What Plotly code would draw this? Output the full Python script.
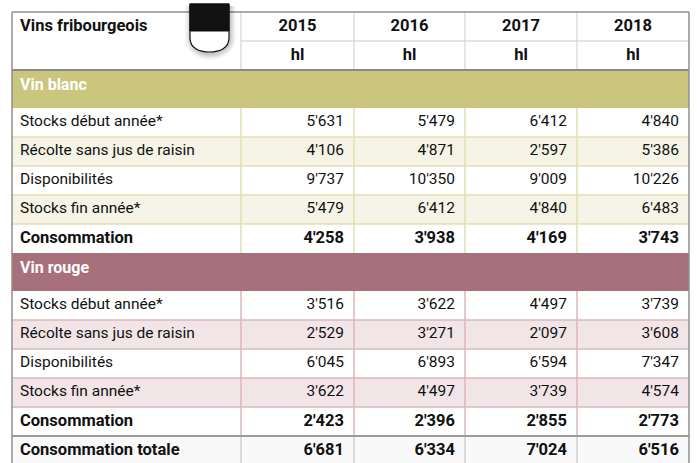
import plotly.graph_objects as go

# ---------------- data ----------------
title = "Vins fribourgeois"
years = ["2015", "2016", "2017", "2018"]
units = ["hl", "hl", "hl", "hl"]
row_labels = ["Stocks début année*", "Récolte sans jus de raisin", "Disponibilités",
              "Stocks fin année*", "Consommation"]

blanc_stocks_debut = [5631, 5479, 6412, 4840]
blanc_recolte = [4106, 4871, 2597, 5386]
blanc_dispo = [9737, 10350, 9009, 10226]
blanc_stocks_fin = [5479, 6412, 4840, 6483]
blanc_conso = [4258, 3938, 4169, 3743]

rouge_stocks_debut = [3516, 3622, 4497, 3739]
rouge_recolte = [2529, 3271, 2097, 3608]
rouge_dispo = [6045, 6893, 6594, 7347]
rouge_stocks_fin = [3622, 4497, 3739, 4574]
rouge_conso = [2423, 2396, 2855, 2773]

total_label = "Consommation totale"
conso_totale = [6681, 6334, 7024, 6516]

# ---------------- style / geometry ----------------
W, H = 697, 463
col_edges = [12, 241, 354, 465, 577, 689]
TOP = 12
HDR_ROW = 29
BAND_H = 38
ROW_H = 29
FONT = "Roboto"
FS = 15.5
FS_B = 16.5
TXT = "#111111"

sections = [
    dict(name="Vin blanc", rows=[blanc_stocks_debut, blanc_recolte, blanc_dispo,
                                 blanc_stocks_fin, blanc_conso],
         band="#cac67e", alt="#f5f4e6", grid="#e3dfb3"),
    dict(name="Vin rouge", rows=[rouge_stocks_debut, rouge_recolte, rouge_dispo,
                                 rouge_stocks_fin, rouge_conso],
         band="#a8707a", alt="#f1e5e7", grid="#dbb7bc"),
]


def fmt(v):
    return f"{v:,}".replace(",", "'")


shapes = []
texts = {"reg": [[], [], [], []], "bold": [[], [], [], []], "white": [[], [], [], []]}


def add_text(kind, x, y, t, pos):
    texts[kind][0].append(x)
    texts[kind][1].append(y)
    texts[kind][2].append(t)
    texts[kind][3].append(pos)


def rect(x0, y0, x1, y1, fill):
    shapes.append(dict(type="rect", xref="x", yref="y", x0=x0, x1=x1, y0=y0, y1=y1,
                       fillcolor=fill, line=dict(width=0), layer="below"))


def hline(x0, x1, y, color, w=1):
    shapes.append(dict(type="line", xref="x", yref="y", x0=x0, x1=x1, y0=y, y1=y,
                       line=dict(color=color, width=w), layer="below"))


def vline(x, y0, y1, color, w=1):
    shapes.append(dict(type="line", xref="x", yref="y", x0=x, x1=x, y0=y0, y1=y1,
                       line=dict(color=color, width=w), layer="below"))


L, R = col_edges[0], col_edges[-1]
pad_l, pad_r = 8, 10

# header
hdr_bot = TOP + 2 * HDR_ROW
rect(L, TOP, R, hdr_bot, "white")
add_text("bold", L + pad_l, TOP + HDR_ROW / 2, title, "middle right")
for i, (yr, u) in enumerate(zip(years, units)):
    cx = (col_edges[i + 1] + col_edges[i + 2]) / 2
    add_text("bold", cx, TOP + HDR_ROW / 2, yr, "middle center")
    add_text("bold", cx, TOP + HDR_ROW * 1.5, u, "middle center")
hline(col_edges[1], R, TOP + HDR_ROW, "#cccccc", 1)
for xe in col_edges[1:-1]:
    vline(xe, TOP, hdr_bot, "#cccccc", 1)

y = hdr_bot
for sec in sections:
    # band
    rect(L, y, R, y + BAND_H, sec["band"])
    add_text("white", L + pad_l, y + BAND_H / 2 - 3, sec["name"], "middle right")
    y += BAND_H
    y_start = y
    section_lines = []
    for r, (lab, vals) in enumerate(zip(row_labels, sec["rows"])):
        fill = sec["alt"] if r % 2 == 1 else "white"
        rect(L, y, R, y + ROW_H, fill)
        kind = "bold" if r == len(row_labels) - 1 else "reg"
        add_text(kind, L + pad_l, y + ROW_H / 2, lab, "middle right")
        for i, v in enumerate(vals):
            add_text(kind, col_edges[i + 2] - pad_r, y + ROW_H / 2, fmt(v), "middle left")
        if r > 0:
            section_lines.append(y)
        y += ROW_H
    for xe in col_edges[1:-1]:
        vline(xe, y_start, y, sec["grid"], 1.5)
    for yy in section_lines:
        hline(L, R, yy, sec["grid"], 1.5)

# total row
rect(L, y, R, y + ROW_H, "#f9f9f9")
add_text("bold", L + pad_l, y + ROW_H / 2, total_label, "middle right")
for i, v in enumerate(conso_totale):
    add_text("bold", col_edges[i + 2] - pad_r, y + ROW_H / 2, fmt(v), "middle left")
for xe in col_edges[1:-1]:
    vline(xe, y, y + ROW_H, "#cfcfcf", 1.5)
hline(L, R, y, "#9a9a9a", 2)
y_end = y + ROW_H

# outer border and header bottom
hline(L, R, hdr_bot, "#8a8a8a", 2)
hline(L, R, TOP, "#8f8f8f", 1.5)
vline(L, TOP, y_end, "#8f8f8f", 1.5)
vline(R, TOP, y_end, "#8f8f8f", 1.5)

# Fribourg shield
sx0, sx1, sy0, sy_mid, sy1 = 190, 229, 4, 31, 52
cxs = (sx0 + sx1) / 2
for k, op in [(6, 0.035), (4.5, 0.045), (3, 0.06), (1.5, 0.08)]:
    sp = (f"M {sx0 - k + 1},{sy0 + 2} L {sx1 + k + 1},{sy0 + 2} L {sx1 + k + 1},{sy1 - 14} "
          f"C {sx1 + k + 1},{sy1 - 4 + k} {sx1 - 9},{sy1 + k + 2} {cxs + 1},{sy1 + k + 2} "
          f"C {sx0 + 9},{sy1 + k + 2} {sx0 - k + 1},{sy1 - 4 + k} {sx0 - k + 1},{sy1 - 14} Z")
    shapes.append(dict(type="path", xref="x", yref="y", path=sp,
                       fillcolor=f"rgba(0,0,0,{op})", line=dict(width=0), layer="below"))
shield_path = (f"M {sx0},{sy0} L {sx1},{sy0} L {sx1},{sy1 - 14} "
               f"C {sx1},{sy1 - 4} {sx1 - 9},{sy1} {cxs},{sy1} "
               f"C {sx0 + 9},{sy1} {sx0},{sy1 - 4} {sx0},{sy1 - 14} Z")
shapes.append(dict(type="path", xref="x", yref="y", path=shield_path,
                   fillcolor="white", line=dict(color="#111111", width=1.2), layer="below"))
shapes.append(dict(type="rect", xref="x", yref="y", x0=sx0, x1=sx1, y0=sy0, y1=sy_mid,
                   fillcolor="#111111", line=dict(color="#111111", width=1), layer="below"))

fig = go.Figure()
styles = {
    "reg": dict(family=FONT, size=FS, color=TXT),
    "bold": dict(family=FONT, size=FS_B, color=TXT, weight="bold"),
    "white": dict(family=FONT, size=16, color="white", weight="bold"),
}
for kind, (xs, ys, ts, ps) in texts.items():
    fig.add_trace(go.Scatter(x=xs, y=ys, text=ts, mode="text", textposition=ps,
                             textfont=styles[kind], hoverinfo="skip", showlegend=False))

fig.update_layout(
    width=W, height=H, margin=dict(l=0, r=0, t=0, b=0),
    paper_bgcolor="white", plot_bgcolor="white",
    xaxis=dict(range=[0, W], visible=False, fixedrange=True),
    yaxis=dict(range=[H, 0], visible=False, fixedrange=True),
    shapes=shapes, showlegend=False,
)
fig.write_html("out.html", config={"displayModeBar": False},
               post_script="document.body.style.margin='0';")
